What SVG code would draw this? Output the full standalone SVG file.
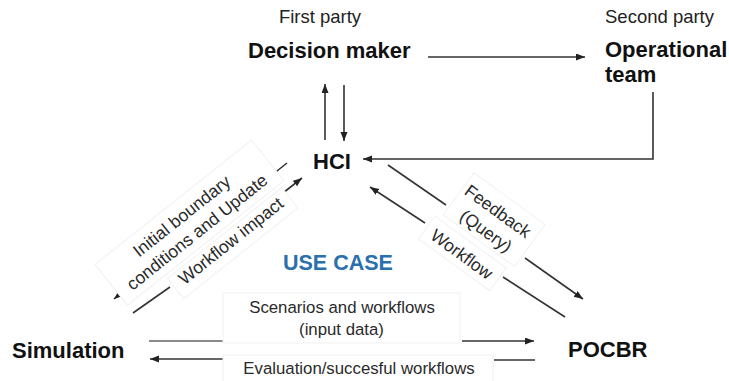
<svg xmlns="http://www.w3.org/2000/svg" width="729" height="381" viewBox="0 0 729 381">
<style>
.t{font-family:"Liberation Sans",Arial,sans-serif;fill:#1a1a1a}
.b{font-weight:bold;font-size:22px;fill:#111}
.s{font-size:18.5px;fill:#222}
.m{font-size:16.8px;fill:#2a2a2a}
.d{font-size:17.5px;fill:#2a2a2a}
.ln{stroke:#333;stroke-width:1.6;fill:none}
.lg{stroke:#8a8a8a;stroke-width:2;fill:none}
.bx{fill:#fff;stroke:#f1f1f1;stroke-width:1}
.ar{marker-end:url(#ah)}
</style>
<defs>
<marker id="ah" markerWidth="10" markerHeight="8" refX="9" refY="3.5" orient="auto" markerUnits="userSpaceOnUse">
<path d="M0,0 L9,3.5 L0,7 z" fill="#222"/>
</marker>
</defs>
<rect width="729" height="381" fill="#fff"/>
<g id="connectors">
<line class="ln ar" x1="428" y1="57" x2="585" y2="57"/>
<line class="ln ar" x1="325" y1="140" x2="325" y2="84"/>
<line class="ln ar" x1="344" y1="85" x2="344" y2="141"/>
<polyline class="ln ar" points="653,92 653,159 363,159"/>
<line class="ln" x1="287" y1="163" x2="272" y2="175"/>
<line class="ln ar" x1="126" y1="289" x2="114" y2="299"/>
<line class="ln" x1="133" y1="313" x2="170" y2="287"/>
<line class="ln ar" x1="283" y1="193" x2="302" y2="178"/>
<line class="ln" x1="388" y1="165" x2="446" y2="205"/>
<line class="ln ar" x1="525" y1="258" x2="583" y2="299"/>
<line class="ln" x1="565" y1="317" x2="503" y2="277"/>
<line class="ln ar" x1="425" y1="223" x2="370" y2="187"/>
<line class="lg" x1="149" y1="341" x2="223" y2="341"/>
<line class="ln ar" x1="462" y1="341" x2="534" y2="341"/>
<line class="ln ar" x1="223" y1="359" x2="150" y2="359"/>
<line class="ln" x1="494" y1="360" x2="535" y2="360"/>
</g>
<g id="label-left" transform="translate(197,232) rotate(-38.5)">
<rect class="bx" x="-100" y="-38" width="200" height="52"/>
<rect class="bx" x="-52" y="18" width="146" height="26"/>
<text class="t d" x="-2" y="-16" text-anchor="middle">Initial boundary</text>
<text class="t d" x="0" y="6" text-anchor="middle">conditions and Update</text>
<text class="t d" x="21" y="34" text-anchor="middle">Workflow impact</text>
</g>
<g id="label-right" transform="translate(486,231) rotate(36)">
<rect class="bx" x="-44" y="-40" width="88" height="52"/>
<rect class="bx" x="-50" y="18" width="88" height="28"/>
<text class="t d" x="-2" y="-17" text-anchor="middle">Feedback</text>
<text class="t d" x="0" y="6" text-anchor="middle">(Query)</text>
<text class="t d" x="-6" y="39" text-anchor="middle">Workflow</text>
</g>
<g id="label-bottom">
<rect class="bx" x="223" y="293" width="237" height="50"/>
<rect class="bx" x="223" y="355" width="270" height="30"/>
<text class="t m" x="342" y="313" text-anchor="middle">Scenarios and workflows</text>
<text class="t m" x="341.5" y="335" text-anchor="middle">(input data)</text>
<text class="t m" x="359" y="374" text-anchor="middle">Evaluation/succesful workflows</text>
</g>
<g id="node-decision-maker">
<text class="t s" x="320" y="23" text-anchor="middle">First party</text>
<text class="t b" x="248" y="58">Decision maker</text>
</g>
<g id="node-operational-team">
<text class="t s" x="605" y="23">Second party</text>
<text class="t b" x="605" y="57">Operational</text>
<text class="t b" x="605" y="82">team</text>
</g>
<g id="node-hci">
<text class="t b" x="313" y="169">HCI</text>
</g>
<g id="node-use-case">
<text class="t b" x="283" y="270" style="fill:#2a6fae;font-size:21.5px">USE CASE</text>
</g>
<g id="node-simulation">
<text class="t b" x="12" y="358">Simulation</text>
</g>
<g id="node-pocbr">
<text class="t b" x="568" y="357">POCBR</text>
</g>
</svg>
